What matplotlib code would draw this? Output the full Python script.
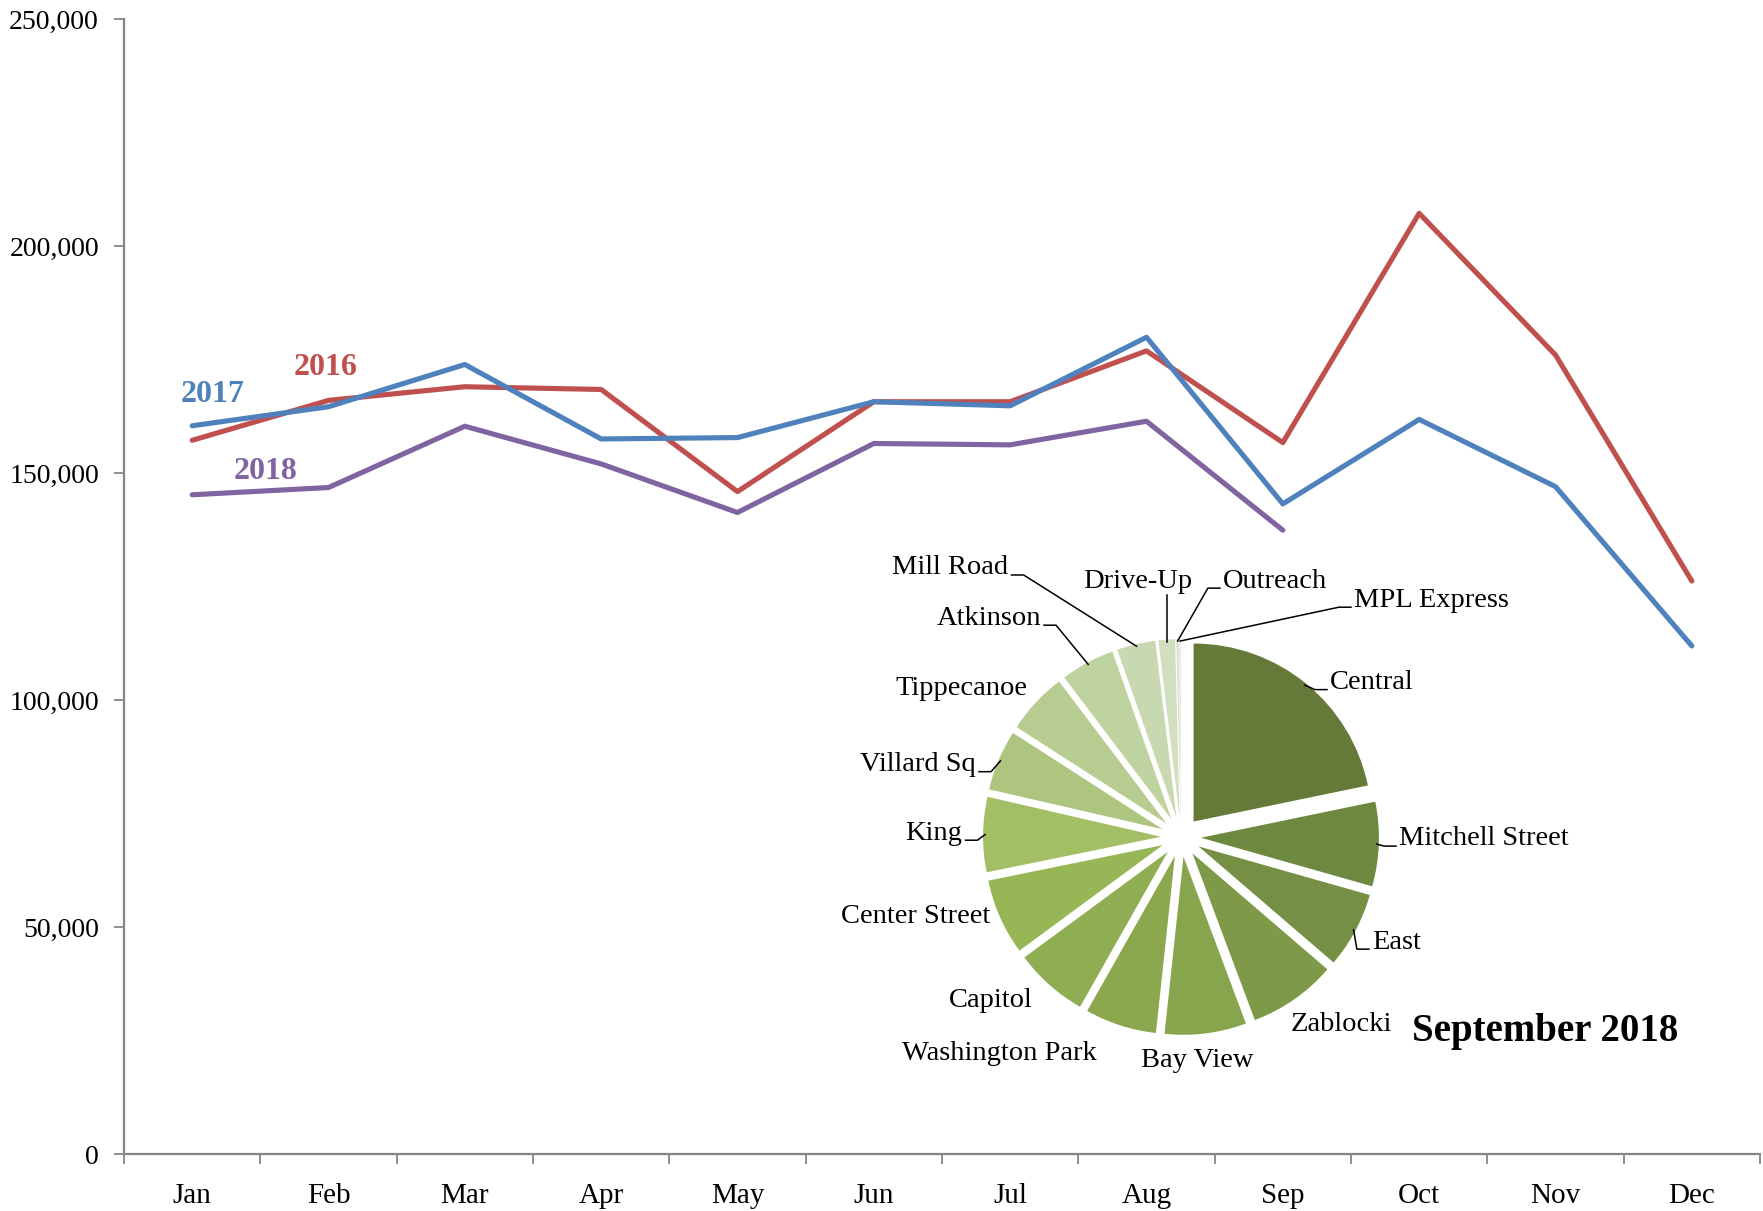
import matplotlib.pyplot as plt
import numpy as np
from matplotlib.ticker import FuncFormatter

plt.rcParams['font.family'] = ['Liberation Serif', 'DejaVu Serif']

months = ['Jan', 'Feb', 'Mar', 'Apr', 'May', 'Jun', 'Jul', 'Aug', 'Sep', 'Oct', 'Nov', 'Dec']
visits_2016 = [157200, 166000, 169000, 168400, 145900, 165700, 165700, 176900, 156700, 207200, 176000, 126200]
visits_2017 = [160400, 164600, 173900, 157500, 157800, 165700, 164800, 179900, 143200, 161800, 147000, 111900]
visits_2018 = [145200, 146800, 160300, 152000, 141300, 156500, 156200, 161400, 137400]

# September 2018 share by location (percent)
branches = ['Central', 'Mitchell Street', 'East', 'Zablocki', 'Bay View', 'Washington Park',
            'Capitol', 'Center Street', 'King', 'Villard Sq', 'Tippecanoe', 'Atkinson',
            'Mill Road', 'Drive-Up', 'Outreach', 'MPL Express']
share = [21.75, 7.65, 6.9, 8.0, 7.4, 6.5, 6.7, 6.9, 6.8, 5.5, 5.6, 4.9, 3.5, 1.5, 0.25, 0.15]
greens = ['#657a38', '#6d883f', '#758f44', '#7e9a48', '#86a54d', '#8ba84f', '#8fad52', '#97b655',
          '#a2bf65', '#adc57f', '#b6cc90', '#bed39f', '#c8d8b0', '#d2dec0', '#dce5ce', '#e5ebda']

RED, BLUE, PURPLE = '#c0504d', '#4f81bd', '#8064a2'
GRAY = '#868686'

fig = plt.figure(figsize=(17.63, 12.11), dpi=100)
ax = fig.add_axes([124 / 1763, 1 - 1154 / 1211, (1760 - 124) / 1763, (1154 - 19) / 1211])

x = np.arange(len(months))
for vals, col in [(visits_2016, RED), (visits_2017, BLUE), (visits_2018, PURPLE)]:
    ax.plot(x[:len(vals)], vals, color=col, lw=3.7, solid_capstyle='round', solid_joinstyle='round')

ax.text(0.15, 167300, '2017', color=BLUE, fontsize=23, fontweight='bold', ha='center', va='center')
ax.text(0.98, 173300, '2016', color=RED, fontsize=23, fontweight='bold', ha='center', va='center')
ax.text(0.54, 150300, '2018', color=PURPLE, fontsize=23, fontweight='bold', ha='center', va='center')

ax.set_xlim(-0.5, 11.5)
ax.set_ylim(0, 250000)
ax.set_yticks(range(0, 250001, 50000))
ax.yaxis.set_major_formatter(FuncFormatter(lambda v, p: f'{int(v):,}'))
ax.set_xticks(np.arange(-0.5, 12, 1))
ax.set_xticklabels([])
ax.set_xticks(x, minor=True)
ax.set_xticklabels(months, minor=True)
ax.tick_params(axis='x', which='major', length=7, width=1.3, color=GRAY, direction='out')
ax.tick_params(axis='x', which='minor', length=0, pad=21, labelsize=21)
ax.tick_params(axis='y', length=7, width=1.3, color=GRAY, pad=11, labelsize=20)
for s in ['top', 'right']:
    ax.spines[s].set_visible(False)
for s in ['left', 'bottom']:
    ax.spines[s].set_color(GRAY)
    ax.spines[s].set_linewidth(1.6)

# pie inset, radius 1 == 178 px
cx, cy, r_px, half = 1181, 837, 178, 300
pax = fig.add_axes([(cx - half) / 1763, 1 - (cy + half) / 1211, 2 * half / 1763, 2 * half / 1211])
pax.patch.set_visible(False)

explode = 0.112
wedges, _ = pax.pie(share, colors=greens, startangle=90, counterclock=False, radius=1,
                    explode=[explode] * len(share))
pax.set_xlim(-half / r_px, half / r_px)
pax.set_ylim(-half / r_px, half / r_px)
pax.set_aspect('equal')
pax.axis('off')

# label layout: (x, y, ha, leader)
label_pos = [
    (0.837, 0.868, 'left', 'stub'),
    (1.225, -0.011, 'left', 'stub'),
    (1.073, -0.59, 'left', 'stub'),
    (0.899, -1.056, 'center', None),
    (0.09, -1.258, 'center', None),
    (-1.019, -1.217, 'center', None),
    (-1.07, -0.92, 'center', None),
    (-1.07, -0.444, 'right', None),
    (-1.228, 0.022, 'right', 'stub'),
    (-1.152, 0.407, 'right', 'stub'),
    (-0.861, 0.837, 'right', None),
    (-0.787, 1.230, 'right', 'stub'),
    (-0.969, 1.512, 'right', 'stub'),
    (-0.242, 1.438, 'center', 'vertical'),
    (0.236, 1.438, 'left', 'stub'),
    (0.972, 1.331, 'left', 'stub'),
]

for w, name, (lx, ly, ha, leader) in zip(wedges, branches, label_pos):
    pax.text(lx, ly, name, fontsize=20.5, ha=ha, va='center', clip_on=False)
    mid = np.deg2rad((w.theta1 + w.theta2) / 2)
    rim = ((1 + explode) * 0.99 * np.cos(mid), (1 + explode) * 0.99 * np.sin(mid))
    if leader == 'stub':
        sy = ly - 0.04
        if ha == 'left':
            edge, stub = lx - 0.017, lx - 0.085
        else:
            edge, stub = lx + 0.017, lx + 0.085
        pax.plot([rim[0], stub, edge], [rim[1], sy, sy], color='black', lw=1.1, clip_on=False)
    elif leader == 'vertical':
        pax.plot([rim[0], rim[0]], [rim[1], ly - 0.08], color='black', lw=1.1, clip_on=False)

fig.text(1412 / 1763, 1 - 1032 / 1211, 'September 2018', fontsize=28, fontweight='bold',
         ha='left', va='center')

fig.savefig('out.png', dpi=100)
